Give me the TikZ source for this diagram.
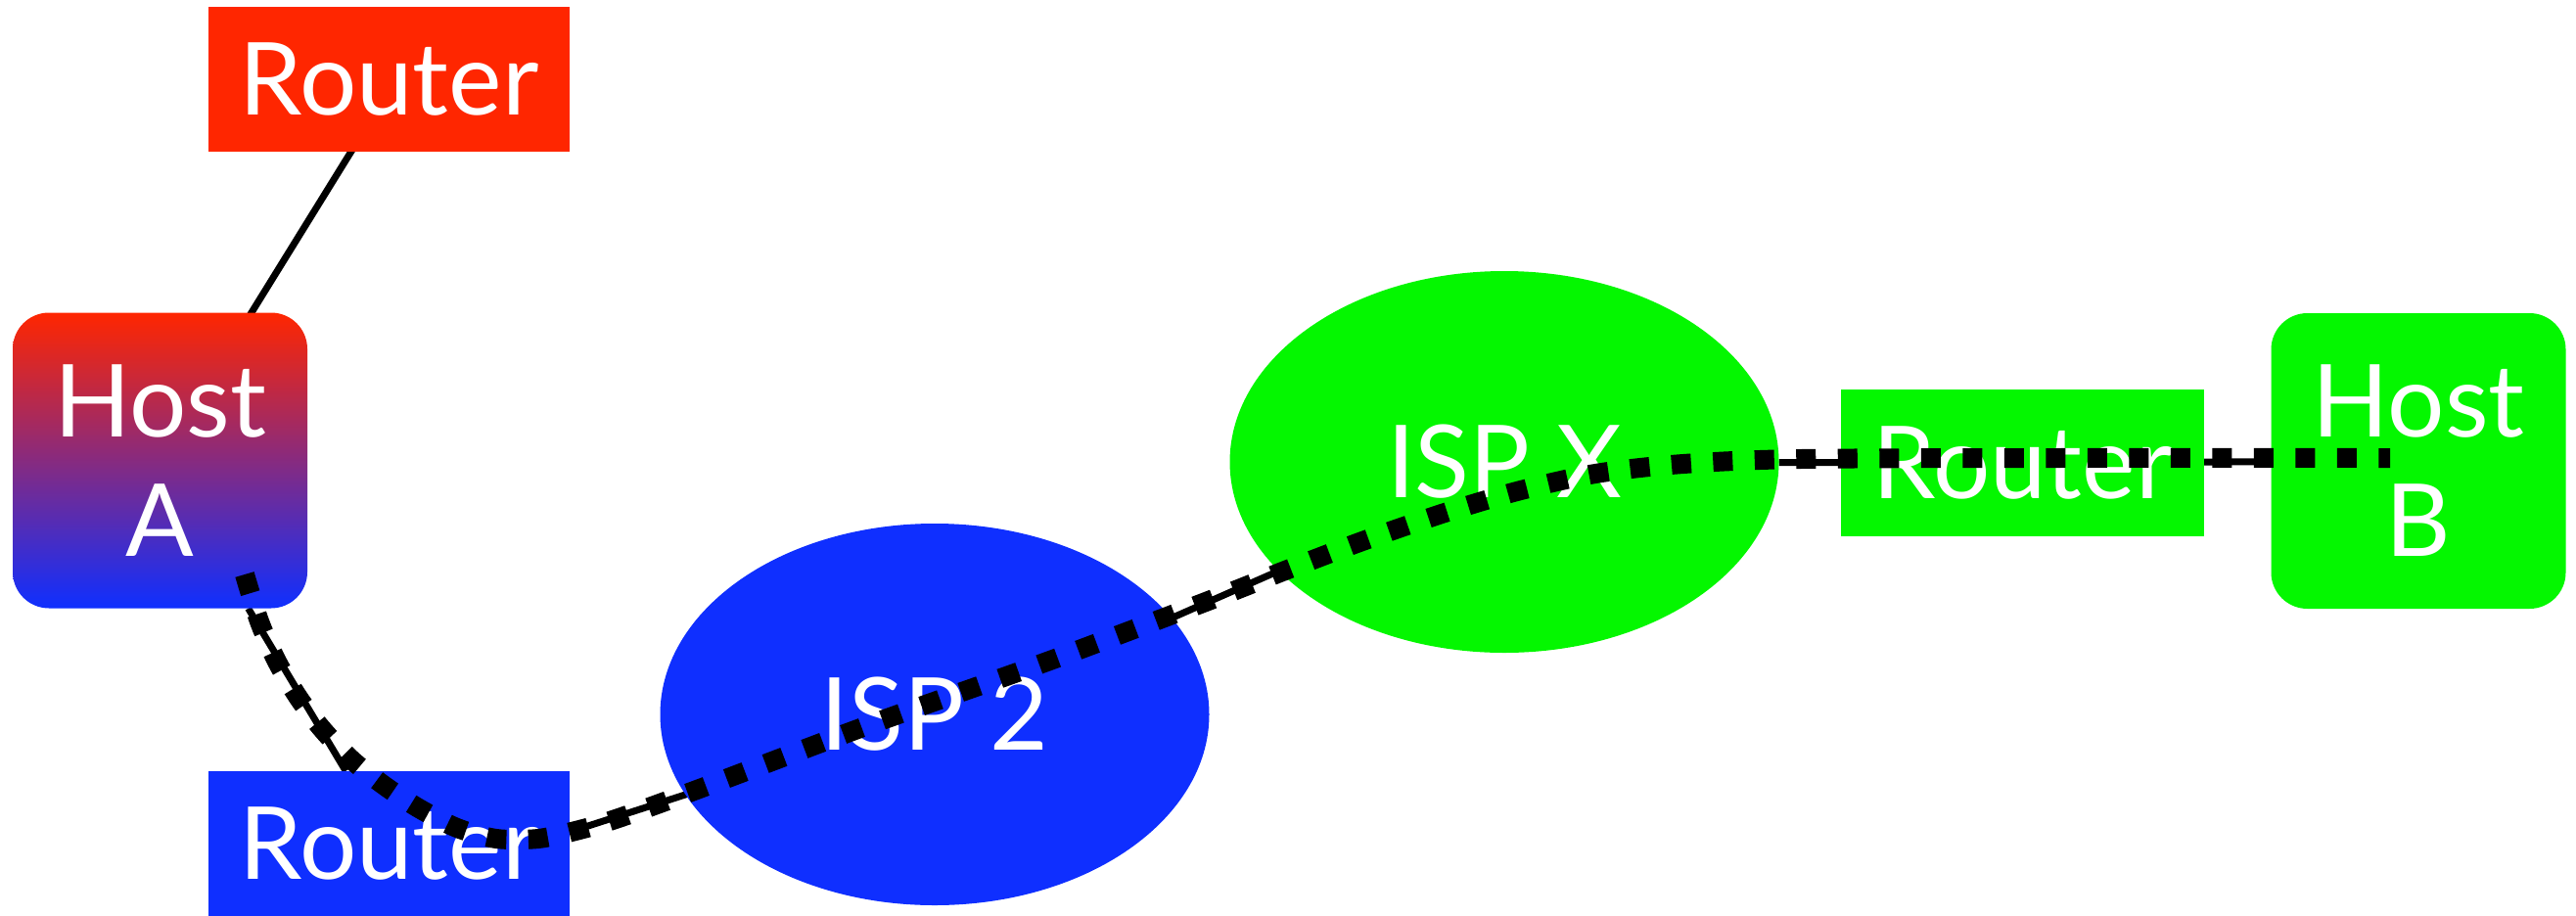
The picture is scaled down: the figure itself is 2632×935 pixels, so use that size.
\documentclass[tikz,border=0pt]{standalone}
\usepackage{fontspec}
\setmainfont{Lato}
\usetikzlibrary{shapes.geometric,backgrounds,calc}
\definecolor{rred}{RGB}{255,38,0}
\definecolor{rblue}{RGB}{15,47,255}
\definecolor{rgreen}{RGB}{4,247,0}
\newcommand\biglabel{\fontsize{103}{122}\selectfont}
\begin{document}
\begin{tikzpicture}[x=1pt,y=-1pt,
  box/.style={rectangle, minimum width=369pt, minimum height=148pt, inner sep=0pt, text=white, font=\biglabel},
  hostbox/.style={rectangle, rounded corners=37pt, minimum width=301pt, minimum height=302pt, inner sep=0pt, text=white, font=\biglabel, align=center},
  isp/.style={ellipse, minimum width=561pt, minimum height=390pt, inner sep=0pt, text=white, font=\biglabel},
  link/.style={line width=7pt, black},
  route/.style={line width=20pt, black, dash pattern=on 20pt off 22.5pt}]
\useasboundingbox (0,0) rectangle (2632,935);
\node[box, fill=rred] (r1) at (397.5,81) {Router};
\node[hostbox, top color=rred, bottom color=rblue] (ha) at (163.5,470.5) {Host\\A};
\node[box, fill=rblue] (r2) at (397.5,862) {Router};
\node[isp, fill=rblue] (isp2) at (955,730) {ISP 2};
\node[isp, fill=rgreen] (ispx) at (1537,472) {ISP X};
\node[box, fill=rgreen, minimum width=371pt, minimum height=150pt] (r3) at (2066.5,473) {Router};
\node[hostbox, fill=rgreen] (hb) at (2471,471) {Host\\B};
\begin{scope}[on background layer]
  \draw[link] ($(r1.center)+(7,0)$) -- (ha.center);
  \draw[link] (ha) -- (r2);
  \draw[link] ($(r2.east)+(0,-12)$) -- (isp2.center);
  \draw[link] ($(isp2.center)+(0,8)$) -- ($(ispx.center)+(0,10)$);
  \draw[link] (ispx) -- (r3);
  \draw[link] (r3) -- (hb);
\end{scope}
\draw[route] plot[smooth, tension=0.5] coordinates {
  (250,587) (265,635) (283,676) (305,713) (330,746) (360,777) (393,803)
  (428,826) (467,846) (507,857) (550,857) (592,848) (632,836) (712,807)
  (890,740) (1070,676) (1232,615) (1313,583) (1392,553) (1473,525)
  (1550,502) (1630,484) (1720,474) (1840,469) (2100,468) (2442,468)};
\end{tikzpicture}
\end{document}
